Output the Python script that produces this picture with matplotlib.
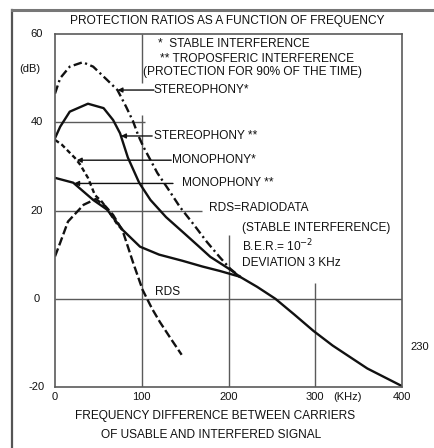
import matplotlib
matplotlib.use("Agg")
import matplotlib.pyplot as plt
from matplotlib.lines import Line2D
import numpy as np

# protection ratio curves: offset (kHz) -> ratio (dB)
stereo_stable_khz = [0, 6, 17, 32, 44, 60, 72, 82, 90, 96, 102, 118, 130, 144, 160, 175, 190, 202, 213]
stereo_stable_db = [46.5, 50.0, 52.6, 53.6, 52.6, 49.6, 47.3, 43.5, 40.2, 37.0, 34.4, 28.5, 25.0, 20.8, 16.8, 12.9, 9.4, 6.8, 5.0]

stereo_tropo_khz = [0, 6, 17, 38, 56, 67, 75, 84, 97, 110, 128, 148, 165, 179, 202, 213]
stereo_tropo_db = [36.4, 39.0, 42.4, 44.2, 43.2, 40.5, 37.5, 32.0, 26.3, 22.4, 18.5, 15.0, 12.0, 9.5, 6.6, 5.0]

mono_stable_khz = [0, 8, 23, 29, 38, 46, 54, 62, 72, 80]
mono_stable_db = [36.0, 34.9, 31.9, 30.4, 27.4, 23.5, 22.0, 19.8, 16.8, 15.2]

mono_tropo_khz = [0, 21, 44, 60, 78, 98, 120, 147, 170, 190, 213]
mono_tropo_db = [27.4, 26.3, 22.4, 20.2, 15.6, 11.8, 10.0, 8.6, 7.3, 6.3, 5.0]

rds_khz = [0, 6, 15, 33, 47, 58, 67, 78, 90, 101, 112, 121, 134, 146]
rds_db = [9.6, 12.7, 17.5, 21.3, 22.6, 21.0, 19.0, 15.4, 8.2, 2.0, -2.3, -5.3, -9.2, -12.7]

# all curves share the same tail above 200 kHz
common_khz = [213, 233, 254, 276, 298, 320, 340, 360, 380, 400]
common_db = [5.0, 2.7, 0.0, -3.6, -7.3, -10.6, -13.2, -15.8, -17.8, -19.8]

x_ticks = [0, 100, 200, 300, 400]
y_ticks = [-20, 0, 20, 40, 60]

FONT = "Liberation Sans"
INK = "#111111"
GRID = "#5a5a5a"
FS = 8.6
TICK_FS = 8

plt.rcParams["font.family"] = [FONT, "DejaVu Sans"]

fig = plt.figure(figsize=(4.35, 4.48), dpi=100)
ax = fig.add_axes([55 / 435, 1 - 387 / 448, 347 / 435, 353 / 448])
ax.set_xlim(0, 400)
ax.set_ylim(-20, 60)
ax.set_xticks([])
ax.set_yticks([])
for spine in ax.spines.values():
    spine.set_color(GRID)
    spine.set_linewidth(1.2)

# partial grid, as drawn on the original
ax.hlines(0, 0, 400, color=GRID, lw=1)
ax.hlines(20, 0, 170, color=GRID, lw=1)
ax.hlines(40, 0, 104, color=GRID, lw=1)
ax.vlines(100, 48.9, 60, color=GRID, lw=1)
ax.vlines(100, -20, 41.7, color=GRID, lw=1)
ax.vlines(200, -20, 14.5, color=GRID, lw=1)
ax.vlines(300, -20, 3.6, color=GRID, lw=1)

lw = 1.7
ax.plot(stereo_stable_khz, stereo_stable_db, color=INK, lw=lw, ls=(0, (3.6, 1.5, 0.9, 1.5)))
ax.plot(stereo_tropo_khz, stereo_tropo_db, color=INK, lw=lw)
ax.plot(mono_stable_khz, mono_stable_db, color=INK, lw=lw, ls=(0, (2.0, 1.3)))
ax.plot(mono_tropo_khz, mono_tropo_db, color=INK, lw=lw)
ax.plot(rds_khz, rds_db, color=INK, lw=lw, ls=(0, (3.6, 1.4)))
ax.plot(common_khz, common_db, color=INK, lw=lw)


def leader(curve_x, curve_y, tip_x, end_x, text, text_x):
    y = float(np.interp(tip_x, curve_x, curve_y))
    ax.annotate("", xy=(tip_x, y), xytext=(end_x, y),
                arrowprops=dict(arrowstyle="-|>", color=INK, lw=1, mutation_scale=7,
                                shrinkA=0, shrinkB=0))
    ax.text(text_x, y, text, fontsize=FS, va="center", ha="left", color=INK)


leader(stereo_stable_khz, stereo_stable_db, 72, 114, "STEREOPHONY*", 114)
leader(stereo_tropo_khz, stereo_tropo_db, 76, 112, "STEREOPHONY **", 114)
leader(mono_stable_khz, mono_stable_db, 25, 134, "MONOPHONY*", 135)
leader(mono_tropo_khz, mono_tropo_db, 22, 136, "MONOPHONY **", 146)

ax.text(178, 20.6, "RDS=RADIODATA", fontsize=FS, va="center", color=INK)
ax.text(215, 16.1, "(STABLE INTERFERENCE)", fontsize=FS, va="center", color=INK)
ax.text(215, 12.0, "B.E.R.= 10$^{-2}$", fontsize=FS, va="center", color=INK)
ax.text(215, 8.2, "DEVIATION 3 KHz", fontsize=FS, va="center", color=INK)
ax.text(115, 1.6, "RDS", fontsize=FS, va="center", color=INK)

ax.text(119, 57.8, "*  STABLE INTERFERENCE", fontsize=FS, va="center", color=INK)
ax.text(121, 54.3, "** TROPOSFERIC INTERFERENCE", fontsize=FS, va="center", color=INK)
ax.text(102, 51.4, "(PROTECTION FOR 90% OF THE TIME)", fontsize=FS, va="center", color=INK)

# tick labels
for v in y_ticks:
    ax.text(-21, v, str(v), fontsize=TICK_FS, ha="center", va="center", color=INK, clip_on=False)
ax.text(-29, 52, "(dB)", fontsize=TICK_FS, ha="center", va="center", color=INK, clip_on=False)
for v in x_ticks:
    ax.text(v, -22.3, str(v), fontsize=TICK_FS, ha="center", va="center", color=INK, clip_on=False)
ax.text(337, -22.3, "(KHz)", fontsize=TICK_FS, ha="center", va="center", color=INK, clip_on=False)
ax.text(421, -11, "230", fontsize=TICK_FS, ha="center", va="center", color=INK, clip_on=False)

ax.text(184, -26.5, "FREQUENCY DIFFERENCE BETWEEN CARRIERS", fontsize=FS, ha="center",
        va="center", color=INK, clip_on=False)
ax.text(180, -30.8, "OF USABLE AND INTERFERED SIGNAL", fontsize=FS, ha="center",
        va="center", color=INK, clip_on=False)

fig.text(227 / 435, 1 - 21 / 448, "PROTECTION RATIOS AS A FUNCTION OF FREQUENCY",
         fontsize=FS, ha="center", va="center", color=INK)

# page border of the scan
fig.add_artist(Line2D([12 / 435, 12 / 435], [0, 1 - 10 / 448], color="#555555", lw=1.6))
fig.add_artist(Line2D([12 / 435, 1], [1 - 10 / 448, 1 - 10 / 448], color="#777777", lw=2.2))

fig.savefig("out.png", dpi=100)
